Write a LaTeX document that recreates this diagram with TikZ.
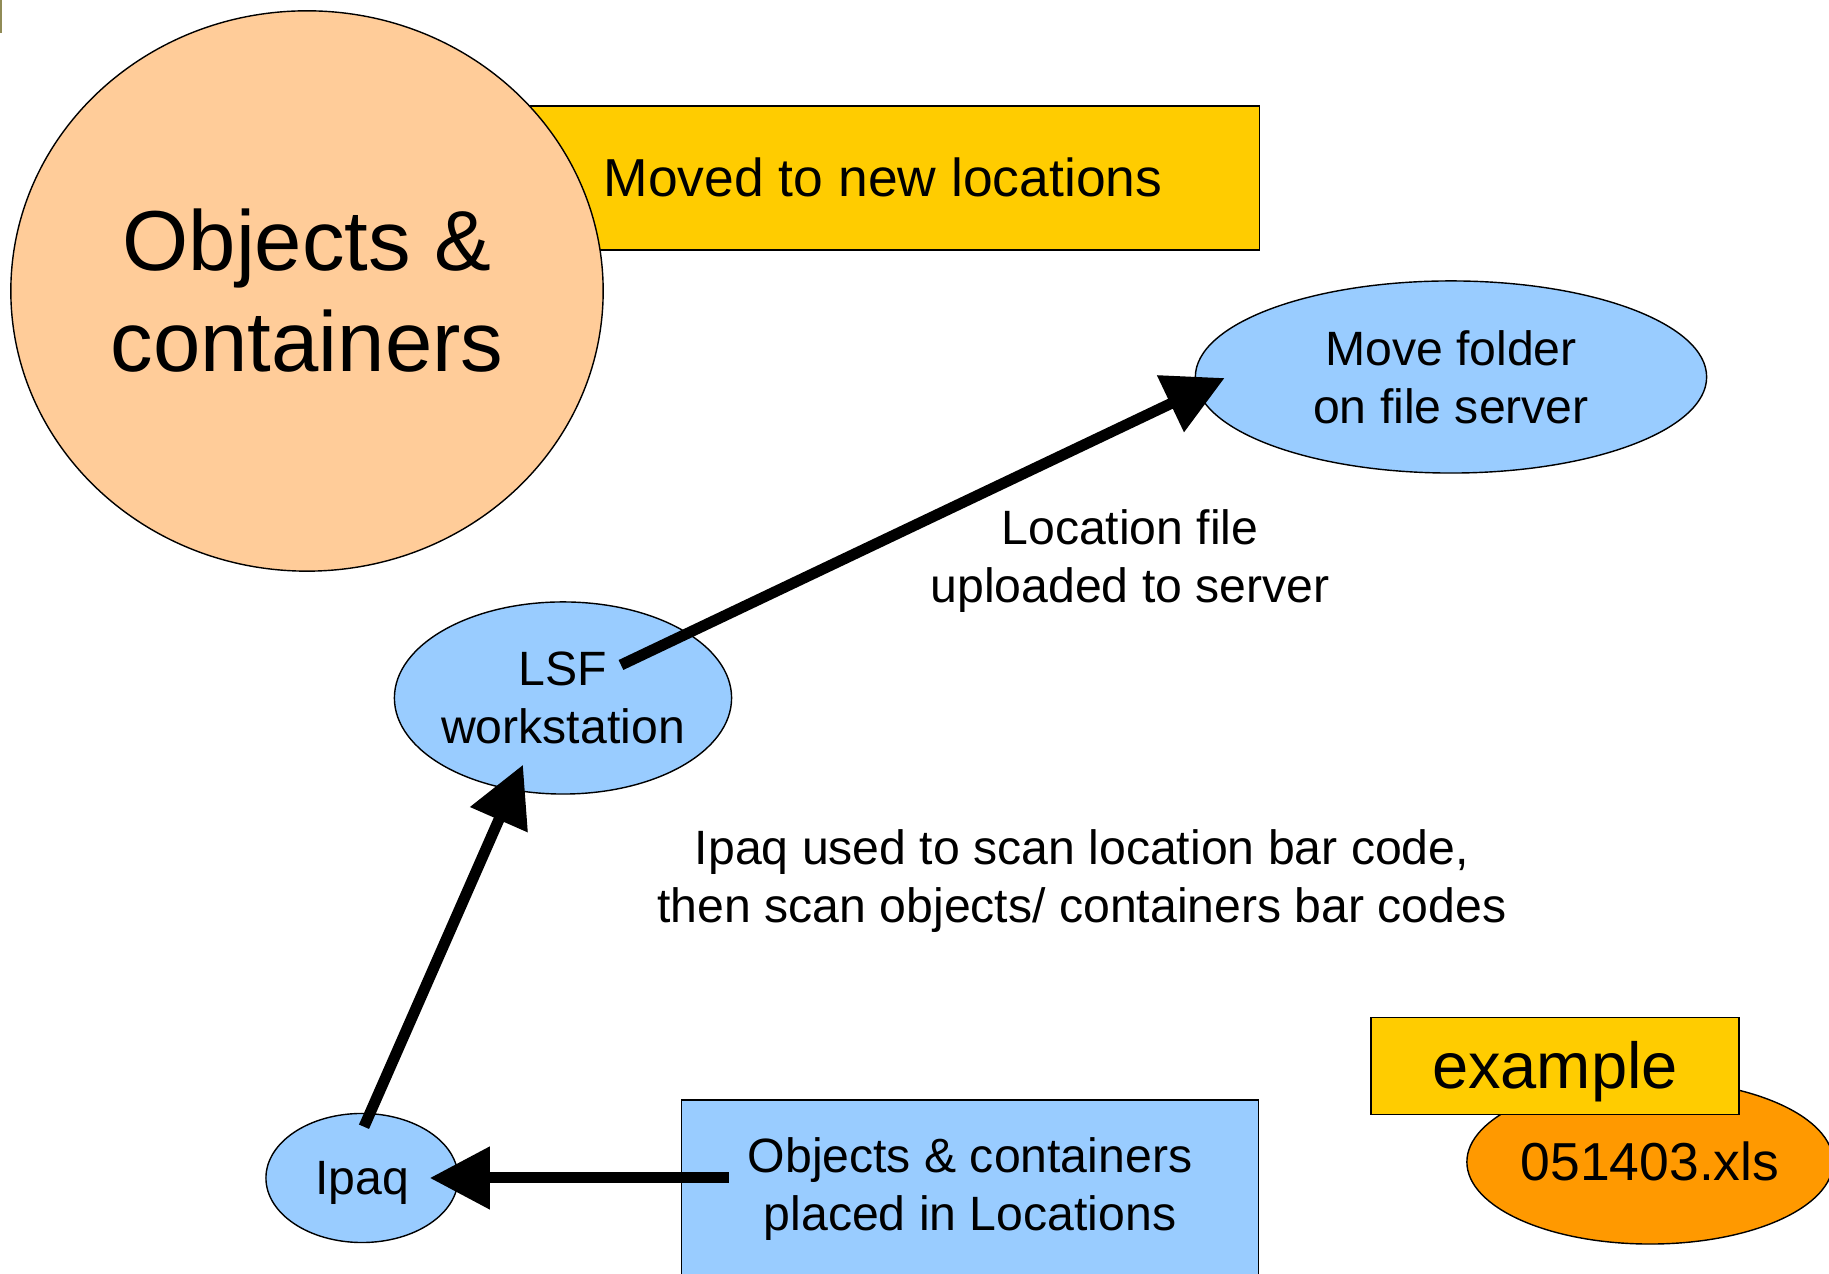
\documentclass[tikz,border=0pt]{standalone}
\usepackage{fontspec}
\setmainfont{Liberation Sans}
\usetikzlibrary{calc,shapes.geometric,arrows.meta}

\definecolor{peach}{HTML}{FFCC99}
\definecolor{gold}{HTML}{FFCC00}
\definecolor{sky}{HTML}{99CCFF}
\definecolor{tangerine}{HTML}{FF9900}

\tikzset{
    blob/.style={ellipse, draw, line width=0.4pt, inner sep=0pt, align=center},
    tag/.style={rectangle, draw, line width=0.4pt, inner sep=0pt, align=center},
    flow/.style={line width=0.11cm, -{Triangle[length=0.6cm,width=0.6cm]}},
    body/.style={font=\fontsize{13.7}{16.4}\selectfont}
}

\begin{document}
\begin{tikzpicture}[x=0.01cm, y=-0.01cm]
    \useasboundingbox (0,0) rectangle (1829,1274);
    \fill[olive!40!gray] (0,0) rectangle (2.5,33);

    \node[tag, fill=gold, minimum width=7.52cm, minimum height=1.44cm, text height=13.8pt, text depth=3.2pt,
          font=\fontsize{15.2}{18}\selectfont] (moved) at (883,178) {Moved to new locations};
    \node[blob, fill=peach, minimum width=5.92cm, minimum height=5.60cm,
          font=\fontsize{24.2}{28.7}\selectfont] (objects) at (307,291) {Objects \&\\containers};

    \node[blob, fill=sky, minimum width=5.11cm, minimum height=1.92cm, body] (folder) at (1451,377) {Move folder\\on file server};
    \node[blob, fill=sky, minimum width=3.37cm, minimum height=1.92cm, inner xsep=-6pt, body] (lsf) at (563,698) {LSF\\workstation};
    \node[blob, fill=sky, minimum width=1.92cm, minimum height=1.29cm, text height=12.4pt, text depth=2.9pt,
          body] (ipaq) at (362,1178) {Ipaq};
    \node[tag, fill=sky, minimum width=5.77cm, minimum height=1.78cm, body] (placed) at (970,1189) {Objects \& containers\\placed in Locations};

    \node[blob, fill=tangerine, minimum width=3.66cm, minimum height=1.64cm, text height=13.8pt, text depth=3.2pt,
          font=\fontsize{15.2}{18}\selectfont] (xls) at (1650,1162) {051403.xls};
    \node[tag, fill=gold, minimum width=3.68cm, minimum height=0.97cm, text height=16.7pt, text depth=3.9pt,
          font=\fontsize{18.5}{22}\selectfont] (example) at (1555,1066) {example};

    \node[body, align=center] (upload) at (1130,561) {Location file\\uploaded to server};
    \node[body, align=center] (scan) at (1082,881) {Ipaq used to scan location bar code,\\then scan objects/ containers bar codes};

    \coordinate (T1) at ($(ipaq.east -| placed.west)+(48,0)$);
    \coordinate (H1) at ($(ipaq.east)+(-29,0)$);
    \coordinate (T2) at ($(ipaq.north)+(2,14)$);
    \coordinate (H2) at ($(lsf.south)+(-40,-30)$);
    \coordinate (T3) at ($(lsf.center)+(58,-33)$);
    \coordinate (H3) at ($(folder.west)+(30,1)$);

    \draw[flow] (T1) -- (H1);
    \draw[flow] (T2) -- (H2);
    \draw[flow] (T3) -- (H3);
\end{tikzpicture}
\end{document}
